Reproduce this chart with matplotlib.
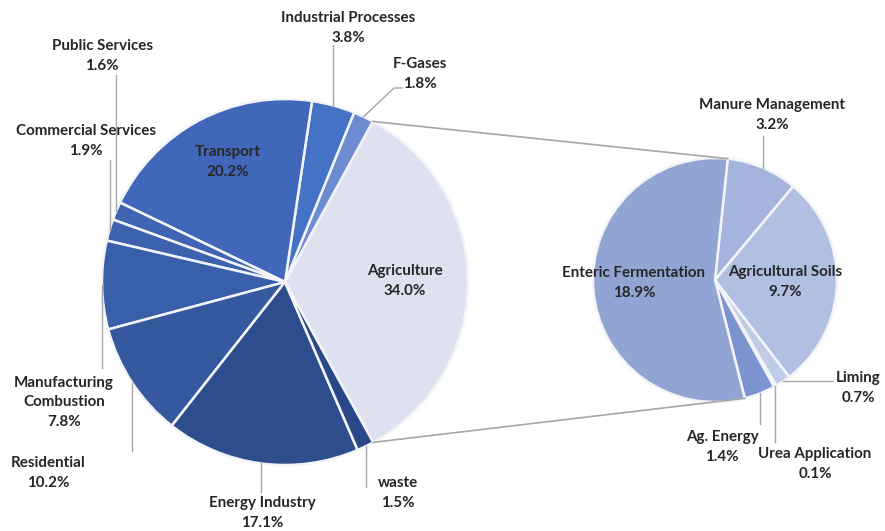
import numpy as np
import matplotlib
matplotlib.use("Agg")
import matplotlib.pyplot as plt

# main sectors (share of total emissions, %)
sectors = ["Agriculture", "F-Gases", "Industrial Processes", "Transport",
           "Public Services", "Commercial Services", "Manufacturing\nCombustion",
           "Residential", "Energy Industry", "waste"]
sector_pct = [34.0, 1.8, 3.8, 20.2, 1.6, 1.9, 7.8, 10.2, 17.1, 1.5]
sector_colors = ["#dde1f0", "#6c8bd0", "#4472c4", "#4167ba", "#3f64b3",
                 "#3c61ad", "#3a5faa", "#35589f", "#2e4d8d", "#2a4888"]

# agriculture breakdown (%)
agri = ["Manure Management", "Agricultural Soils", "Liming", "Urea Application",
        "Ag. Energy", "Enteric Fermentation"]
agri_pct = [3.2, 9.7, 0.7, 0.1, 1.4, 18.9]
agri_colors = ["#a5b4dc", "#b1bfe2", "#c0cbe6", "#d0d8ec", "#7c93cf", "#92a4d3"]

W, H = 885, 531
fig = plt.figure(figsize=(W / 100, H / 100), dpi=100)
ax = fig.add_axes([0, 0, 1, 1])

txt_kw = dict(family="Lato", fontweight="bold", fontsize=10.9, color="#262626",
              ha="center", va="center", linespacing=1.5)
line_c = "#a6a6a6"

# main pie (y axis is inverted, so counterclock=False draws it anticlockwise)
explode = [9 / 183] + [0] * (len(sector_pct) - 1)
w1, _ = ax.pie(sector_pct, colors=sector_colors, center=(285, 282), radius=183,
               startangle=61.2, counterclock=False, explode=explode,
               wedgeprops=dict(edgecolor="#f2f4f8", linewidth=1.8),
               frame=True)

# sub pie
w2, _ = ax.pie(agri_pct, colors=agri_colors, center=(715, 280), radius=122,
               startangle=-84, counterclock=True,
               wedgeprops=dict(edgecolor="#f2f4f8", linewidth=1.8),
               frame=True)
ax.set_xlim(0, W)
ax.set_ylim(H, 0)
ax.set_aspect("equal")
ax.axis("off")


def edge_pt(w, ang):
    cx, cy = w.center
    a = np.deg2rad(ang)
    return cx + w.r * np.cos(a), cy + w.r * np.sin(a)


def mid_pt(w):
    return edge_pt(w, (w.theta1 + w.theta2) / 2)


# connector lines between agriculture wedge and the breakdown pie
agw = w1[0]
p_top = edge_pt(agw, agw.theta1)
p_bot = edge_pt(agw, agw.theta2)
q_top = edge_pt(w2[0], w2[0].theta1)
q_bot = edge_pt(w2[-1], w2[-1].theta1)
ax.plot([p_top[0], q_top[0]], [p_top[1], q_top[1]], color=line_c, lw=1.2)
ax.plot([p_bot[0], q_bot[0]], [p_bot[1], q_bot[1]], color=line_c, lw=1.2)


def leader(w, mode, val, knee=None):
    x0, y0 = mid_pt(w)
    if mode == "v":
        xs, ys = [x0, x0], [y0, val]
    elif mode == "h":
        xs, ys = [x0, val], [y0, y0]
    else:
        xs, ys = [x0, knee[0], val[0]], [y0, knee[1], val[1]]
    ax.plot(xs, ys, color=line_c, lw=1)


def label(name, pct, x, y):
    ax.text(x, y, f"{name}\n{pct:.1f}%", **txt_kw)


# main pie labels
label(sectors[0], sector_pct[0], 405, 281)
label(sectors[3], sector_pct[3], 228, 162)

out_main = {
    1: (420, 74, "p", (402, 88), (394, 88)),
    2: (348, 28, "v", 45, None),
    4: (102, 56, "v", 75, None),
    5: (86, 141, "v", 160, None),
    6: (64, 402, "v", 368, None),
    7: (48, 473, "v", 451, None),
    8: (262, 513, "v", 492, None),
    9: (398, 493, "v", 487, None),
}
for i, (tx, ty, mode, val, knee) in out_main.items():
    label(sectors[i], sector_pct[i], tx, ty)
    leader(w1[i], mode, val, knee)

# sub pie labels
label(agri[5], agri_pct[5], 634, 283)
label(agri[1], agri_pct[1], 785, 282)

out_sub = {
    0: (772, 115, "v", 136),
    2: (858, 388, "h", 833),
    3: (815, 464, "v", 442),
    4: (722, 447, "v", 424),
}
for i, (tx, ty, mode, val) in out_sub.items():
    label(agri[i], agri_pct[i], tx, ty)
    leader(w2[i], mode, val)

fig.savefig("out.png", dpi=100, facecolor="white")
